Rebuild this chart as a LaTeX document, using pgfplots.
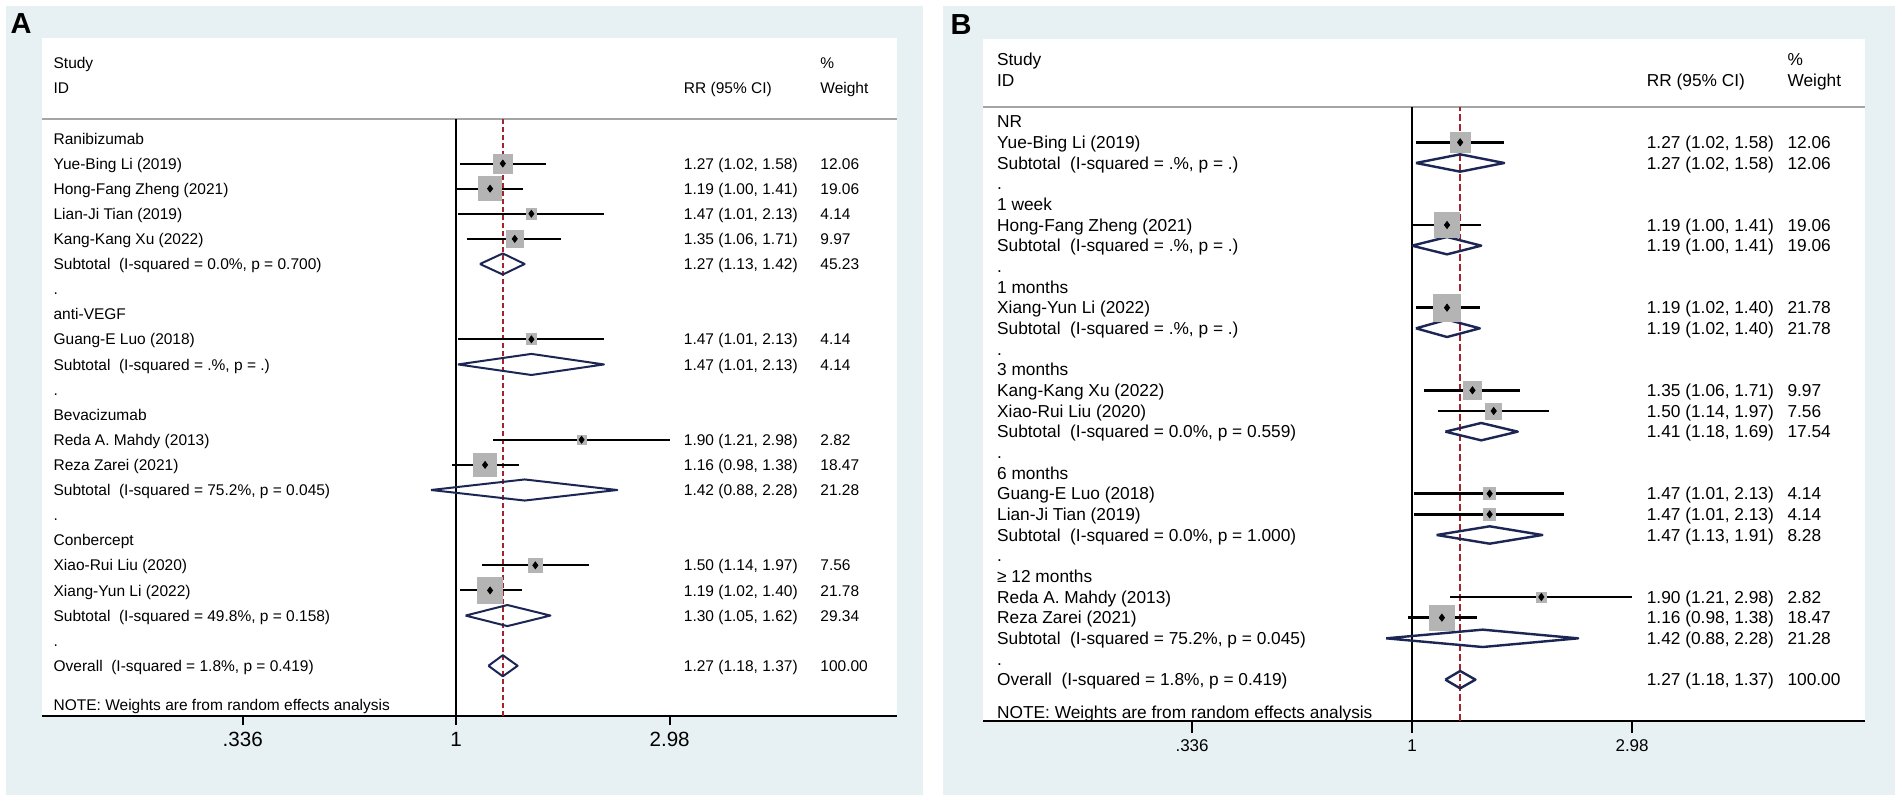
\documentclass[border=0pt]{standalone}
\usepackage{pgfplots}
\pgfplotsset{compat=1.18}
\usepackage{pgfplotstable}
\usepackage{fontspec}
\setmainfont{Liberation Sans}

\definecolor{panelbg}{RGB}{231,240,242}
\definecolor{boxgray}{RGB}{180,180,180}
\definecolor{dianavy}{RGB}{28,38,84}
\definecolor{nullred}{RGB}{165,35,45}
\definecolor{hdrgray}{RGB}{165,165,165}

% study rows: estimate, CI, row position, weight
\pgfplotstableread{
est lo hi y w
1.27 1.02 1.58 22 12.06
1.19 1.00 1.41 21 19.06
1.47 1.01 2.13 20 4.14
1.35 1.06 1.71 19 9.97
1.47 1.01 2.13 15 4.14
1.90 1.21 2.98 11 2.82
1.16 0.98 1.38 10 18.47
1.50 1.14 1.97 6 7.56
1.19 1.02 1.40 5 21.78
}\studA

\pgfplotstableread{
est lo hi y w
1.27 1.02 1.58 28 12.06
1.19 1.00 1.41 24 19.06
1.19 1.02 1.40 20 21.78
1.35 1.06 1.71 16 9.97
1.50 1.14 1.97 15 7.56
1.47 1.01 2.13 11 4.14
1.47 1.01 2.13 10 4.14
1.90 1.21 2.98 6 2.82
1.16 0.98 1.38 5 18.47
}\studB

% one text row: label, RR (95% CI), weight
\newcommand{\trow}[4]{%
  \node[txt] at (axis cs:0.1275,#1) {#2};
  \node[txt] at (axis cs:3.2,#1) {#3};
  \node[txt] at (axis cs:6.43,#1) {#4};}

\begin{document}
\begin{tikzpicture}[x=0.5pt,y=-0.5pt]
\path[use as bounding box, fill=white] (0,0) rectangle (1902,801);
\fill[panelbg] (6,6) rectangle (923,795);
\fill[panelbg] (943,6) rectangle (1895,795);
\node[font=\fontsize{14.5}{16}\selectfont\bfseries] at (21,24) {A};
\node[font=\fontsize{14.5}{16}\selectfont\bfseries] at (961,25) {B};

%%%%%%%%%%%%%%%% panel A
\tikzset{txt/.style={anchor=base west, inner sep=0pt, yshift=-2.8pt,
  font=\fontsize{7.75}{9}\selectfont}}
\begin{axis}[
  at={(21pt,-358pt)}, anchor=south west,
  width=427.5pt, height=339pt, scale only axis,
  xmode=log, xmin=0.1204, xmax=9.53, ymin=0, ymax=27,
  enlargelimits=false, clip=false,
  axis background/.style={fill=white},
  axis line style={draw=none},
  ytick=\empty, xtick={0.336,1,2.98}, xticklabels={.336,1,2.98},
  xminorticks=false, xtick pos=left, tick align=outside,
  major tick length=4.5pt,
  xtick style={black, line width=1pt},
  xticklabel style={font=\fontsize{10.3}{12}\selectfont},
]
\draw[hdrgray, line width=1pt] (rel axis cs:0,0.8807) -- (rel axis cs:1,0.8807);
\draw[black, line width=1pt] (rel axis cs:0,0) -- (rel axis cs:1,0);

\addplot[scatter, only marks, mark=square*,
  scatter/use mapped color={draw=boxgray, fill=boxgray},
  visualization depends on={\thisrow{w} \as \wt},
  scatter/@pre marker code/.append style={/tikz/mark size={1.35*sqrt(\wt)}}]
  table[x=est, y=y] {\studA};

\draw[black, line width=0.8pt] (axis cs:1,0) -- (axis cs:1,23.78);
\addplot[nullred, line width=0.8pt, dash pattern=on 2.5pt off 1.5pt]
  coordinates {(1.27,0) (1.27,23.78)};

\addplot[black, line width=1pt, unbounded coords=jump] coordinates {
(1.02,22) (1.58,22) (nan,nan)
(1.00,21) (1.41,21) (nan,nan)
(1.01,20) (2.13,20) (nan,nan)
(1.06,19) (1.71,19) (nan,nan)
(1.01,15) (2.13,15) (nan,nan)
(1.21,11) (2.98,11) (nan,nan)
(0.98,10) (1.38,10) (nan,nan)
(1.14,6) (1.97,6) (nan,nan)
(1.02,5) (1.40,5)
};
\addplot[only marks, mark=diamond*, mark size=1.7pt, black] table[x=est, y=y] {\studA};

\addplot[dianavy, line width=1pt, line join=round, unbounded coords=jump] coordinates {
(1.13,18) (1.27,18.42) (1.42,18) (1.27,17.58) (1.13,18) (nan,nan)
(1.01,14) (1.47,14.42) (2.13,14) (1.47,13.58) (1.01,14) (nan,nan)
(0.88,9) (1.42,9.42) (2.28,9) (1.42,8.58) (0.88,9) (nan,nan)
(1.05,4) (1.30,4.42) (1.62,4) (1.30,3.58) (1.05,4) (nan,nan)
(1.18,2) (1.27,2.42) (1.37,2) (1.27,1.58) (1.18,2)
};

\trow{26}{Study}{}{\%}
\trow{25}{ID}{RR (95\% CI)}{Weight}
\trow{23}{Ranibizumab}{}{}
\trow{22}{Yue-Bing Li (2019)}{1.27 (1.02, 1.58)}{12.06}
\trow{21}{Hong-Fang Zheng (2021)}{1.19 (1.00, 1.41)}{19.06}
\trow{20}{Lian-Ji Tian (2019)}{1.47 (1.01, 2.13)}{4.14}
\trow{19}{Kang-Kang Xu (2022)}{1.35 (1.06, 1.71)}{9.97}
\trow{18}{Subtotal\ \ (I-squared = 0.0\%, p = 0.700)}{1.27 (1.13, 1.42)}{45.23}
\trow{17}{.}{}{}
\trow{16}{anti-VEGF}{}{}
\trow{15}{Guang-E Luo (2018)}{1.47 (1.01, 2.13)}{4.14}
\trow{14}{Subtotal\ \ (I-squared = .\%, p = .)}{1.47 (1.01, 2.13)}{4.14}
\trow{13}{.}{}{}
\trow{12}{Bevacizumab}{}{}
\trow{11}{Reda A. Mahdy (2013)}{1.90 (1.21, 2.98)}{2.82}
\trow{10}{Reza Zarei (2021)}{1.16 (0.98, 1.38)}{18.47}
\trow{9}{Subtotal\ \ (I-squared = 75.2\%, p = 0.045)}{1.42 (0.88, 2.28)}{21.28}
\trow{8}{.}{}{}
\trow{7}{Conbercept}{}{}
\trow{6}{Xiao-Rui Liu (2020)}{1.50 (1.14, 1.97)}{7.56}
\trow{5}{Xiang-Yun Li (2022)}{1.19 (1.02, 1.40)}{21.78}
\trow{4}{Subtotal\ \ (I-squared = 49.8\%, p = 0.158)}{1.30 (1.05, 1.62)}{29.34}
\trow{3}{.}{}{}
\trow{2}{Overall\ \ (I-squared = 1.8\%, p = 0.419)}{1.27 (1.18, 1.37)}{100.00}
\trow{0.45}{NOTE: Weights are from random effects analysis}{}{}
\end{axis}

%%%%%%%%%%%%%%%% panel B
\tikzset{txt/.style={anchor=base west, inner sep=0pt, yshift=-3.1pt,
  font=\fontsize{8.65}{10}\selectfont}}
\begin{axis}[
  at={(491.5pt,-360.5pt)}, anchor=south west,
  width=441pt, height=341pt, scale only axis,
  xmode=log, xmin=0.1191, xmax=9.46, ymin=0, ymax=33,
  enlargelimits=false, clip=false,
  axis background/.style={fill=white},
  axis line style={draw=none},
  ytick=\empty, xtick={0.336,1,2.98}, xticklabels={.336,1,2.98},
  xminorticks=false, xtick pos=left, tick align=outside,
  major tick length=6pt,
  xtick style={black, line width=1pt},
  xticklabel style={font=\fontsize{8.5}{10}\selectfont},
]
\draw[hdrgray, line width=1pt] (rel axis cs:0,0.9) -- (rel axis cs:1,0.9);
\draw[black, line width=1pt] (rel axis cs:0,0) -- (rel axis cs:1,0);

\addplot[scatter, only marks, mark=square*,
  scatter/use mapped color={draw=boxgray, fill=boxgray},
  visualization depends on={\thisrow{w} \as \wt},
  scatter/@pre marker code/.append style={/tikz/mark size={1.47*sqrt(\wt)}}]
  table[x=est, y=y] {\studB};

\draw[black, line width=1pt] (axis cs:1,0) -- (axis cs:1,29.7);
\addplot[nullred, line width=1.2pt, dash pattern=on 3.3pt off 1.7pt]
  coordinates {(1.27,0) (1.27,29.7)};

\addplot[black, line width=1.2pt, unbounded coords=jump] coordinates {
(1.02,28) (1.58,28) (nan,nan)
(1.00,24) (1.41,24) (nan,nan)
(1.02,20) (1.40,20) (nan,nan)
(1.06,16) (1.71,16) (nan,nan)
(1.14,15) (1.97,15) (nan,nan)
(1.01,11) (2.13,11) (nan,nan)
(1.01,10) (2.13,10) (nan,nan)
(1.21,6) (2.98,6) (nan,nan)
(0.98,5) (1.38,5)
};
\addplot[only marks, mark=diamond*, mark size=1.75pt, black] table[x=est, y=y] {\studB};

\addplot[dianavy, line width=1.2pt, line join=round, unbounded coords=jump] coordinates {
(1.02,27) (1.27,27.42) (1.58,27) (1.27,26.58) (1.02,27) (nan,nan)
(1.00,23) (1.19,23.42) (1.41,23) (1.19,22.58) (1.00,23) (nan,nan)
(1.02,19) (1.19,19.42) (1.40,19) (1.19,18.58) (1.02,19) (nan,nan)
(1.18,14) (1.41,14.42) (1.69,14) (1.41,13.58) (1.18,14) (nan,nan)
(1.13,9) (1.47,9.42) (1.91,9) (1.47,8.58) (1.13,9) (nan,nan)
(0.88,4) (1.42,4.42) (2.28,4) (1.42,3.58) (0.88,4) (nan,nan)
(1.18,2) (1.27,2.42) (1.37,2) (1.27,1.58) (1.18,2)
};

\trow{32}{Study}{}{\%}
\trow{31}{ID}{RR (95\% CI)}{Weight}
\trow{29}{NR}{}{}
\trow{28}{Yue-Bing Li (2019)}{1.27 (1.02, 1.58)}{12.06}
\trow{27}{Subtotal\ \ (I-squared = .\%, p = .)}{1.27 (1.02, 1.58)}{12.06}
\trow{26}{.}{}{}
\trow{25}{1 week}{}{}
\trow{24}{Hong-Fang Zheng (2021)}{1.19 (1.00, 1.41)}{19.06}
\trow{23}{Subtotal\ \ (I-squared = .\%, p = .)}{1.19 (1.00, 1.41)}{19.06}
\trow{22}{.}{}{}
\trow{21}{1 months}{}{}
\trow{20}{Xiang-Yun Li (2022)}{1.19 (1.02, 1.40)}{21.78}
\trow{19}{Subtotal\ \ (I-squared = .\%, p = .)}{1.19 (1.02, 1.40)}{21.78}
\trow{18}{.}{}{}
\trow{17}{3 months}{}{}
\trow{16}{Kang-Kang Xu (2022)}{1.35 (1.06, 1.71)}{9.97}
\trow{15}{Xiao-Rui Liu (2020)}{1.50 (1.14, 1.97)}{7.56}
\trow{14}{Subtotal\ \ (I-squared = 0.0\%, p = 0.559)}{1.41 (1.18, 1.69)}{17.54}
\trow{13}{.}{}{}
\trow{12}{6 months}{}{}
\trow{11}{Guang-E Luo (2018)}{1.47 (1.01, 2.13)}{4.14}
\trow{10}{Lian-Ji Tian (2019)}{1.47 (1.01, 2.13)}{4.14}
\trow{9}{Subtotal\ \ (I-squared = 0.0\%, p = 1.000)}{1.47 (1.13, 1.91)}{8.28}
\trow{8}{.}{}{}
\trow{7}{≥ 12 months}{}{}
\trow{6}{Reda A. Mahdy (2013)}{1.90 (1.21, 2.98)}{2.82}
\trow{5}{Reza Zarei (2021)}{1.16 (0.98, 1.38)}{18.47}
\trow{4}{Subtotal\ \ (I-squared = 75.2\%, p = 0.045)}{1.42 (0.88, 2.28)}{21.28}
\trow{3}{.}{}{}
\trow{2}{Overall\ \ (I-squared = 1.8\%, p = 0.419)}{1.27 (1.18, 1.37)}{100.00}
\trow{0.44}{NOTE: Weights are from random effects analysis}{}{}
\end{axis}
\end{tikzpicture}
\end{document}
